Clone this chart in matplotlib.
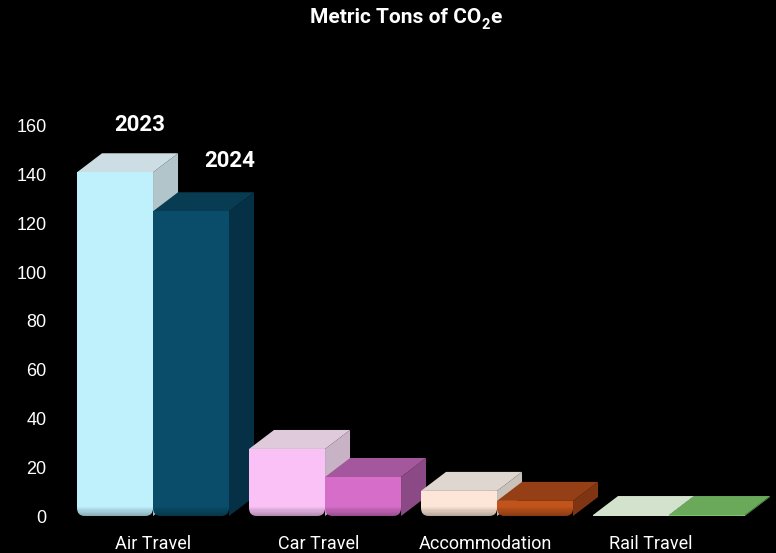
import matplotlib
matplotlib.use("Agg")
import matplotlib.pyplot as plt
from matplotlib.patches import Polygon, FancyBboxPatch, Rectangle
import numpy as np

# ---------------- data ----------------
categories = ["Air Travel", "Car Travel", "Accommodation", "Rail Travel"]
series_names = ["2023", "2024"]
values_2023 = [141, 27.5, 10.3, 0.4]
values_2024 = [125, 16, 6.2, 0.4]
y_ticks = [0, 20, 40, 60, 80, 100, 120, 140, 160]

# ---------------- styles ----------------
front_2023 = ["#BFF1FD", "#F9C1F6", "#FDE6D7", "#D3E2CD"]
top_2023 = ["#CCDDE3", "#DFCADC", "#DFD6CF", "#D3E2CC"]
side_2023 = ["#B2C5CB", "#C8B2C5", "#C9C1BA", "#BFD0B8"]
front_2024 = ["#094D6A", "#D66DC9", "#C1531B", "#7BC46A"]
top_2024 = ["#083C52", "#A4579C", "#953F16", "#6AA85A"]
side_2024 = ["#063045", "#8B4A85", "#7F3514", "#5A9450"]

W, H = 776, 553
fig = plt.figure(figsize=(W / 100, H / 100), dpi=100, facecolor="black")
ax_l, ax_b, ax_w, ax_h = 55, 23, 721, 485
ax = fig.add_axes([ax_l / W, ax_b / H, ax_w / W, ax_h / H])
ax.set_facecolor("black")
xlim = (-0.570, 3.622)
ylim = (-5.74, 193.2)
ax.set_xlim(*xlim)
ax.set_ylim(*ylim)

px_x = ax_w / (xlim[1] - xlim[0])
px_y = ax_h / (ylim[1] - ylim[0])
ddx = 25 / px_x
ddy = 19 / px_y
bar_w = 76 / px_x
rad_px = 8


def draw_bar(x0, h, fc, tc, sc, z):
    # side face
    side = Polygon([(x0 + bar_w, 0), (x0 + bar_w + ddx, ddy),
                    (x0 + bar_w + ddx, h + ddy), (x0 + bar_w, h)],
                   closed=True, facecolor=sc, edgecolor="none", zorder=z)
    ax.add_patch(side)
    # top face
    top = Polygon([(x0, h), (x0 + bar_w, h), (x0 + bar_w + ddx, h + ddy),
                   (x0 + ddx, h + ddy)],
                  closed=True, facecolor=tc, edgecolor="none", zorder=z)
    ax.add_patch(top)
    # front face with rounded bottom corners
    rx = rad_px / px_x
    ry = min(rad_px / px_y, h / 2)
    if h > 1.5:
        fb = FancyBboxPatch((x0, 0), bar_w, h,
                            boxstyle=f"round,pad=0,rounding_size={rx}",
                            mutation_aspect=ry / rx,
                            facecolor=fc, edgecolor="none", zorder=z + 0.1)
        ax.add_patch(fb)
        ax.add_patch(Rectangle((x0, ry), bar_w, h - ry, facecolor=fc,
                               edgecolor="none", zorder=z + 0.1))
        # bevel shading near the bottom
        bevel = 9 / px_y
        n = 8
        for k in range(n):
            y0 = bevel * k / n
            a = 0.28 * (1 - k / n)
            r = Rectangle((x0, y0), bar_w, bevel / n, facecolor="black",
                          alpha=a, edgecolor="none", zorder=z + 0.2)
            ax.add_patch(r)
            r.set_clip_path(fb)
    else:
        ax.add_patch(Rectangle((x0, 0), bar_w, max(h, 0.4), facecolor=fc,
                               edgecolor="none", zorder=z + 0.1))


z = 1
for i in range(len(categories)):
    draw_bar(i - bar_w, values_2023[i], front_2023[i], top_2023[i], side_2023[i], z)
    z += 1
    draw_bar(i, values_2024[i], front_2024[i], top_2024[i], side_2024[i], z)
    z += 1

# series labels above the Air Travel bars
ax.annotate(series_names[0], xy=(-bar_w / 2 + ddx, values_2023[0] + ddy),
            xytext=(0, 20), textcoords="offset points", ha="center", va="center",
            color="white", fontsize=16, fontweight="bold", family="Roboto")
ax.annotate(series_names[1], xy=(bar_w / 2 + ddx, values_2024[0] + ddy),
            xytext=(10, 22.5), textcoords="offset points", ha="center", va="center",
            color="white", fontsize=16, fontweight="bold", family="Roboto")

# axes styling
for s in ax.spines.values():
    s.set_visible(False)
ax.set_yticks(y_ticks)
ax.set_yticklabels([str(t) for t in y_ticks], color="white", fontsize=13,
                   family="Liberation Sans")
ax.tick_params(axis="y", length=0, pad=6)
ax.set_xticks(np.arange(len(categories)) * 0.965)
ax.set_xticklabels(categories, color="white", fontsize=13, family="Roboto")
ax.tick_params(axis="x", length=0, pad=3.5)

# title with a real subscript built from three text pieces
title_kw = dict(color="white", fontweight="bold", family="Roboto", va="baseline")
renderer = fig.canvas.get_renderer()
t_main = fig.text(0, 1 - 23 / H, "Metric Tons of CO", fontsize=15, ha="left", **title_kw)
t_sub = fig.text(0, 1 - 29 / H, "2", fontsize=10.5, ha="left", **title_kw)
t_end = fig.text(0, 1 - 23 / H, "e", fontsize=15, ha="left", **title_kw)
w_main = t_main.get_window_extent(renderer).width
w_sub = t_sub.get_window_extent(renderer).width
w_end = t_end.get_window_extent(renderer).width
total = w_main + w_sub + w_end
x_start = 406 - total / 2
t_main.set_x(x_start / W)
t_sub.set_x((x_start + w_main) / W)
t_end.set_x((x_start + w_main + w_sub) / W)

fig.savefig("out.png", dpi=100, facecolor="black")
